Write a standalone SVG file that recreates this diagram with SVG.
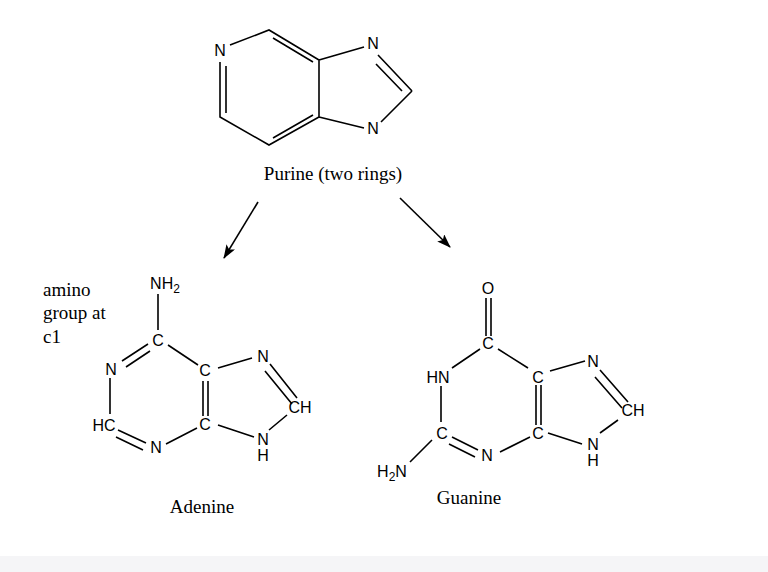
<svg xmlns="http://www.w3.org/2000/svg" width="768" height="572" viewBox="0 0 768 572">
<defs>
<style>
.b{stroke:#000;stroke-width:1.6;fill:none}
.a{font-family:'Liberation Sans',Arial,sans-serif;font-size:16px;fill:#000;text-anchor:middle}
.s{font-family:'Liberation Serif','Times New Roman',serif;font-size:19px;fill:#000}
</style>
<marker id="ah" markerWidth="14" markerHeight="10" refX="13" refY="5" orient="auto" markerUnits="userSpaceOnUse"><path d="M0,0 L14,5 L0,10 L3,5 z" fill="#000"/></marker>
</defs>
<rect width="768" height="572" fill="#fff"/>
<rect x="0" y="556" width="768" height="16" fill="#f5f5f7"/>
<g id="purine">
<path class="b" d="M230,45 L269,30 L319,60 L319,117 L269,145 L220,117 L220,62 M273,38 L313,62 M313,115 L273,138 M226,66 L226,113 M319,60 L364,47 M378,55 L412,91 M376,64 L402,91 M412,91 L381,122 M319,117 L364,128"/>
<text class="a" x="220" y="56">N</text>
<text class="a" x="373" y="49">N</text>
<text class="a" x="373" y="134">N</text>
<text class="s" x="333" y="180" text-anchor="middle">Purine (two rings)</text>
</g>
<g id="connectors">
<line class="b" x1="258" y1="202" x2="224" y2="258" marker-end="url(#ah)"/>
<line class="b" x1="400" y1="198" x2="450" y2="247" marker-end="url(#ah)"/>
</g>
<g id="adenine">
<path class="b" d="M158,294 L158,330 M148,344 L122,361 M150,351 L126,367 M168,345 L198,365 M218,368 L252,358 M270,364 L297,398 M265,371 L292,404 M287,415 L269,430 M218,425 L254,437 M203,381 L203,416 M208,381 L208,416 M197,428 L166,444 M146,443 L118,430 M143,450 L116,437 M110,378 L110,414"/>
<text class="a" x="165" y="289">NH<tspan font-size="12" dy="4">2</tspan></text>
<text class="a" x="158" y="346">C</text>
<text class="a" x="111" y="375">N</text>
<text class="a" x="205" y="376">C</text>
<text class="a" x="263" y="362">N</text>
<text class="a" x="300" y="413">CH</text>
<text class="a" x="263" y="445">N</text>
<text class="a" x="263" y="461">H</text>
<text class="a" x="205" y="430">C</text>
<text class="a" x="156" y="453">N</text>
<text class="a" x="104" y="431">HC</text>
<text class="s" x="43" y="296">amino</text>
<text class="s" x="43" y="319">group at</text>
<text class="s" x="43" y="343">c1</text>
<text class="s" x="202" y="513" text-anchor="middle">Adenine</text>
</g>
<g id="guanine">
<path class="b" d="M486,298 L486,336 M491,298 L491,336 M452,368 L480,349 M498,349 L528,368 M550,371 L585,361 M600,370 L628,402 M595,377 L622,408 M618,420 L600,433 M548,433 L582,444 M536,385 L536,425 M541,385 L541,425 M530,437 L500,452 M478,450 L452,437 M475,457 L449,444 M441,386 L441,422 M432,440 L410,462"/>
<text class="a" x="488" y="294">O</text>
<text class="a" x="488" y="349">C</text>
<text class="a" x="438" y="383">HN</text>
<text class="a" x="538" y="383">C</text>
<text class="a" x="593" y="367">N</text>
<text class="a" x="633" y="416">CH</text>
<text class="a" x="593" y="450">N</text>
<text class="a" x="593" y="466">H</text>
<text class="a" x="538" y="439">C</text>
<text class="a" x="487" y="461">N</text>
<text class="a" x="442" y="439">C</text>
<text class="a" x="392" y="477">H<tspan font-size="12" dy="4">2</tspan><tspan dy="-4">N</tspan></text>
<text class="s" x="469" y="504" text-anchor="middle">Guanine</text>
</g>
</svg>
